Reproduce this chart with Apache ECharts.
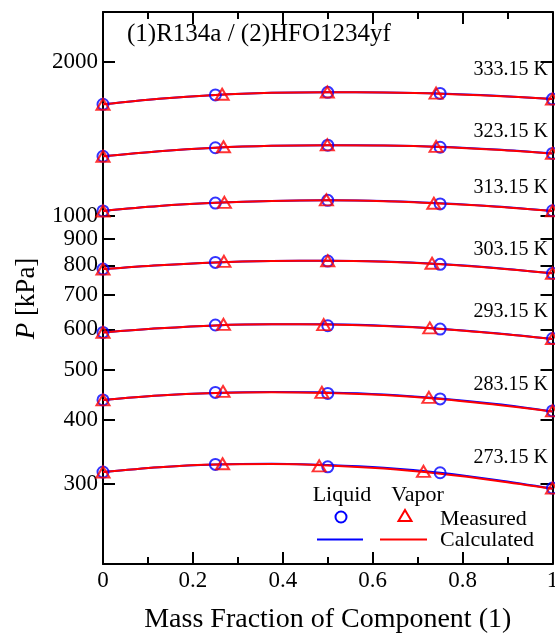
<!DOCTYPE html>
<html>
<head>
<meta charset="utf-8">
<script src="https://cdn.jsdelivr.net/npm/echarts@6/dist/echarts.min.js"></script>
<style>html,body{margin:0;padding:0;background:#fff;}#c{width:555px;height:635px;}</style>
</head>
<body>
<div id="c"></div>
<script>
// ---- data ----
const temps = ['333.15 K','323.15 K','313.15 K','303.15 K','293.15 K','283.15 K','273.15 K'];
const xTicks = [0, 0.2, 0.4, 0.6, 0.8, 1];
const yTicks = [300, 400, 500, 600, 700, 800, 900, 1000, 2000];
const liquidX = [0, 0.25, 0.5, 0.75, 1];
const calcX = [0, 0.125, 0.25, 0.375, 0.5, 0.625, 0.75, 0.875, 1];

const liquid333 = [1651, 1722, 1742, 1734, 1690];
const vaporX333 = [0, 0.265, 0.499, 0.741, 1];
const vapor333  = [1651, 1727, 1745, 1736, 1690];
const bubble333 = [1651, 1693, 1722, 1738, 1743, 1741, 1733, 1715, 1690];
const dew333    = [1651, 1693, 1722, 1738, 1743, 1741, 1732, 1714, 1690];

const liquid323 = [1307, 1358, 1374, 1361, 1324];
const vaporX323 = [0, 0.268, 0.499, 0.741, 1];
const vapor323  = [1307, 1364, 1376, 1366, 1324];
const bubble323 = [1307, 1337, 1358, 1370, 1374, 1372, 1364, 1347, 1323];
const dew323    = [1307, 1337, 1358, 1370, 1374, 1372, 1363, 1346, 1323];

const liquid313 = [1022, 1059, 1072, 1055, 1023];
const vaporX313 = [0, 0.27, 0.497, 0.736, 1];
const vapor313  = [1022, 1062, 1074, 1058, 1023];
const bubble313 = [1022, 1045, 1060, 1069, 1072, 1069, 1058, 1043, 1022];
const dew313    = [1022, 1045, 1060, 1069, 1072, 1068, 1057, 1042, 1022];

const liquid303 = [787, 811, 816, 804, 772];
const vaporX303 = [0, 0.269, 0.5, 0.732, 1];
const vapor303  = [787, 815, 817, 808, 772];
const bubble303 = [787, 801, 811, 816, 817, 814, 805, 791, 772];
const dew303    = [787, 801, 811, 816, 817, 813, 804, 790, 772];

const liquid293 = [592, 612, 610, 601, 576];
const vaporX293 = [0, 0.268, 0.491, 0.727, 1];
const vapor293  = [592, 614, 613, 604, 576];
const bubble293 = [592, 603, 611, 614, 614, 610, 602, 590, 575];
const dew293    = [592, 603, 611, 614, 613.5, 609, 601, 589, 575];

const liquid283 = [437, 452, 450, 439, 416];
const vaporX283 = [0, 0.267, 0.487, 0.725, 1];
const vapor283  = [437, 454, 452, 442, 416];
const bubble283 = [437, 446, 451, 453, 452, 448, 440, 429, 415];
const dew283    = [437, 446, 451, 452.5, 451, 447, 439, 427.5, 415];

const liquid273 = [316, 327, 323.5, 315, 294];
const vaporX273 = [0, 0.266, 0.481, 0.713, 1];
const vapor273  = [316, 328, 325, 317, 294];
const bubble273 = [316, 323, 327, 328, 326, 322, 315, 305, 293.5];
const dew273    = [316, 323, 327, 327.5, 325.5, 321, 313.5, 304, 293];

const groups = [
  [liquid333, vaporX333, vapor333, bubble333, dew333],
  [liquid323, vaporX323, vapor323, bubble323, dew323],
  [liquid313, vaporX313, vapor313, bubble313, dew313],
  [liquid303, vaporX303, vapor303, bubble303, dew303],
  [liquid293, vaporX293, vapor293, bubble293, dew293],
  [liquid283, vaporX283, vapor283, bubble283, dew283],
  [liquid273, vaporX273, vapor273, bubble273, dew273]
];
// label vertical positions (px) for temperature annotations
const tempLabelY = [70, 131.5, 188, 250, 311.5, 385, 458];

const FONT = '"Liberation Serif", "Times New Roman", serif';
const BLUE = '#0000ff', RED = '#ff0000';

const zip = (xs, ys) => xs.map((x, i) => [x, ys[i]]);

const series = [];
groups.forEach((g, k) => {
  const [liq, vx, vap, bub, dew] = g;
  series.push({
    type: 'line', name: 'bubble ' + temps[k], data: zip(calcX, bub), smooth: 0.35,
    showSymbol: false, lineStyle: { color: BLUE, width: 2 }, z: 2, silent: true
  });
  series.push({
    type: 'line', name: 'dew ' + temps[k], data: zip(calcX, dew), smooth: 0.35,
    showSymbol: false, lineStyle: { color: RED, width: 2 }, z: 3, silent: true
  });
  series.push({
    type: 'scatter', name: 'liquid ' + temps[k], data: zip(liquidX, liq),
    symbol: 'circle', symbolSize: 11,
    itemStyle: { color: 'rgba(0,0,0,0)', borderColor: BLUE, borderWidth: 2 }, z: 4, silent: true
  });
  series.push({
    type: 'scatter', name: 'vapor ' + temps[k], data: zip(vx, vap),
    symbol: 'triangle', symbolSize: [13, 11],
    itemStyle: { color: 'rgba(0,0,0,0)', borderColor: RED, borderWidth: 2 }, z: 5, silent: true
  });
});

const axisLineStyle = () => ({ color: '#000', width: 2 });
const tickStyle = () => ({ color: '#000', width: 2 });
const grid = { left: 103, top: 12, width: 449.5, bottom: 71, outerBoundsMode: 'none', containLabel: false };

const graphic = [
  { type: 'text', left: 127, top: 22, style: { text: '(1)R134a / (2)HFO1234yf', font: '25px ' + FONT, fill: '#000' } },
  { type: 'text', x: 27, y: 298.5, rotation: Math.PI / 2,
    style: { text: '{i|P} [kPa]', font: '27px ' + FONT, fill: '#000', align: 'center', verticalAlign: 'middle',
      rich: { i: { fontStyle: 'italic', fontFamily: FONT, fontSize: 27 } } } },
  // legend
  { type: 'text', x: 342, y: 495, style: { text: 'Liquid', font: '22px ' + FONT, fill: '#000', align: 'center', verticalAlign: 'middle' } },
  { type: 'text', x: 417.5, y: 495, style: { text: 'Vapor', font: '22px ' + FONT, fill: '#000', align: 'center', verticalAlign: 'middle' } },
  { type: 'circle', shape: { cx: 341, cy: 517, r: 5.5 }, style: { fill: 'none', stroke: BLUE, lineWidth: 2 } },
  { type: 'polygon', shape: { points: [[405, 510], [411.5, 521], [398.5, 521]] }, style: { fill: 'none', stroke: RED, lineWidth: 2 } },
  { type: 'text', x: 440, y: 519, style: { text: 'Measured', font: '22px ' + FONT, fill: '#000', align: 'left', verticalAlign: 'middle' } },
  { type: 'line', shape: { x1: 317, y1: 539.5, x2: 363, y2: 539.5 }, style: { stroke: BLUE, lineWidth: 2 } },
  { type: 'line', shape: { x1: 380, y1: 539.5, x2: 427, y2: 539.5 }, style: { stroke: RED, lineWidth: 2 } },
  { type: 'text', x: 440, y: 540, style: { text: 'Calculated', font: '22px ' + FONT, fill: '#000', align: 'left', verticalAlign: 'middle' } }
];
temps.forEach((t, k) => {
  graphic.push({ type: 'text', x: 548, y: tempLabelY[k],
    style: { text: t, font: '20px ' + FONT, fill: '#000', align: 'right', verticalAlign: 'middle' } });
});

const option = {
  backgroundColor: '#fff',
  animation: false,
  grid: grid,
  xAxis: [
    {
      type: 'value', min: 0, max: 1, interval: 0.2, position: 'bottom',
      axisLine: { onZero: false, lineStyle: axisLineStyle() },
      axisTick: { inside: true, length: 12, lineStyle: tickStyle() },
      minorTick: { show: true, splitNumber: 2, length: 7, lineStyle: tickStyle() },
      splitLine: { show: false },
      axisLabel: { fontFamily: FONT, fontSize: 23, color: '#000', margin: 5 },
      name: 'Mass Fraction of Component (1)', nameLocation: 'middle', nameGap: 42,
      nameTextStyle: { fontFamily: FONT, fontSize: 28, color: '#000' }
    },
    {
      type: 'value', min: 0, max: 1, interval: 0.2, position: 'top',
      axisLine: { onZero: false, lineStyle: axisLineStyle() },
      axisTick: { inside: true, length: 12, lineStyle: tickStyle() },
      minorTick: { show: true, splitNumber: 2, length: 7, lineStyle: tickStyle() },
      splitLine: { show: false }, axisLabel: { show: false }
    }
  ],
  yAxis: [
    {
      type: 'log', logBase: 10, min: 209, max: 2500, position: 'left',
      axisLine: { show: true, onZero: false, lineStyle: axisLineStyle() },
      axisTick: { show: true, inside: true, length: 12, customValues: yTicks, lineStyle: tickStyle() },
      axisLabel: { customValues: yTicks, fontFamily: FONT, fontSize: 23, color: '#000', margin: 5, formatter: v => String(Math.round(v)) },
      splitLine: { show: false }, minorTick: { show: false }
    },
    {
      type: 'log', logBase: 10, min: 209, max: 2500, position: 'right',
      axisLine: { show: true, onZero: false, lineStyle: axisLineStyle() },
      axisTick: { show: true, inside: true, length: 12, customValues: yTicks, lineStyle: tickStyle() },
      axisLabel: { show: false },
      splitLine: { show: false }, minorTick: { show: false }
    }
  ],
  graphic: graphic,
  series: series
};

const chart = echarts.init(document.getElementById('c'), null, { renderer: 'canvas' });
chart.setOption(option);
</script>
</body>
</html>
